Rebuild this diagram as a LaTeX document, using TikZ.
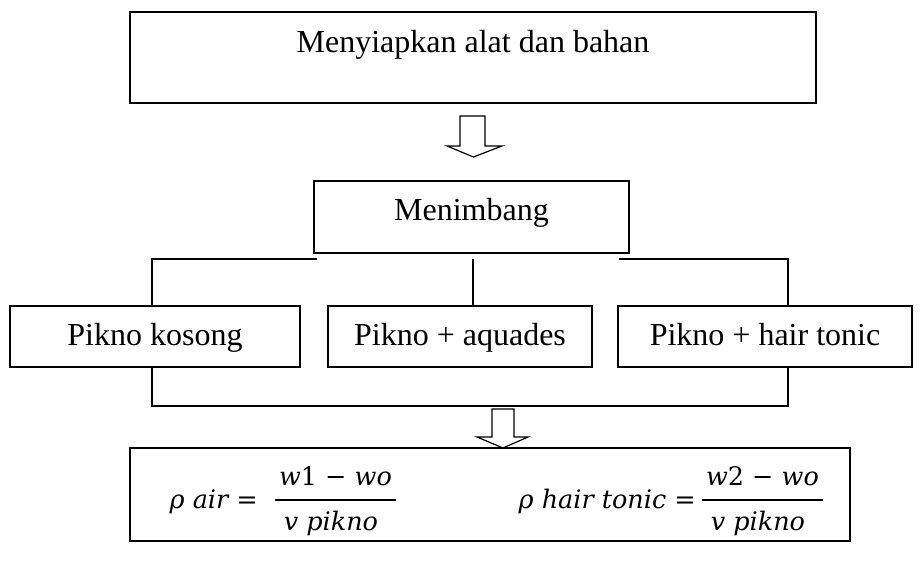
\documentclass[tikz,border=0pt]{standalone}
\usepackage{fontspec}
\setmainfont{Liberation Serif}
\newfontfamily\eqfont{DejaVu Serif}
\begin{document}
\begin{tikzpicture}[x=1pt,y=-1pt,
  boxst/.style={draw,line width=1.3pt,inner sep=0pt,outer sep=0pt},
  txt/.style={font=\fontsize{32}{36}\selectfont,inner sep=0pt,anchor=base},
  mth/.style={font=\eqfont\fontsize{25.5}{30}\selectfont,inner sep=0pt,anchor=base},
  conn/.style={line width=1.3pt},
  blockarrow/.style={draw,line width=1.2pt,fill=white,line join=miter}]
\useasboundingbox (0,0) rectangle (922,567);

% top box
\node[boxst,minimum width=686pt,minimum height=91pt] (top) at (473,57.5) {};
\node[txt] (toptxt) at (473,53) {Menyiapkan alat dan bahan};

% arrow 1
\draw[blockarrow] (460,116) -- (485,116) -- (485,146) -- (502,146) -- (473.5,157) -- (447,146) -- (460,146) -- cycle;

% Menimbang
\node[boxst,minimum width=315pt,minimum height=72pt] (mn) at (471.5,217) {};
\node[txt] (mntxt) at (471.5,220.5) {Menimbang};

% three boxes
\node[boxst,minimum width=290pt,minimum height=61pt] (b1) at (155,336.5) {};
\node[boxst,minimum width=264pt,minimum height=61pt] (b2) at (460,336.5) {};
\node[boxst,minimum width=294pt,minimum height=61pt] (b3) at (765,336.5) {};
\node[txt] (b1t) at (155,345) {Pikno kosong};
\node[txt] (b2t) at (460,345) {Pikno + aquades};
\node[txt] (b3t) at (765,345) {Pikno + hair tonic};

% upper connectors
\coordinate (tl) at (152,259);
\coordinate (tle) at (317,259);
\coordinate (tm) at (473,259);
\coordinate (trs) at (619,259);
\coordinate (tr) at (788,259);
\draw[conn] (b1.north -| tl) -- (tl) -- (tle);
\draw[conn] (b2.north -| tm) -- (tm);
\draw[conn] (trs) -- (tr) -- (b3.north -| tr);

% lower connector
\coordinate (bl) at (152,406);
\coordinate (br) at (788,406);
\draw[conn] (b1.south -| bl) -- (bl) -- (br) -- (b3.south -| br);

% arrow 2
\draw[blockarrow] (492,409) -- (514,409) -- (514,437) -- (528,437) -- (503,448) -- (477,437) -- (492,437) -- cycle;

% bottom box
\node[boxst,minimum width=720pt,minimum height=93pt] (bot) at (490,494.5) {};

% formula 1
\node[mth,anchor=base east] (f1l) at (258,508) {\itshape ρ air {\upshape =}};
\node[mth] (f1n) at (335.5,485) {\itshape w{\upshape 1} {\upshape −} wo};
\node[mth] (f1d) at (331,530) {\itshape v pikno};
\coordinate (f1a) at (275,500);
\coordinate (f1b) at (396,500);
\draw[line width=1.5pt] (f1a) -- (f1b);

% formula 2
\node[mth,anchor=base east] (f2l) at (696,508) {\itshape ρ hair tonic {\upshape =}};
\node[mth] (f2n) at (762.5,485) {\itshape w{\upshape 2} {\upshape −} wo};
\node[mth] (f2d) at (758,530) {\itshape v pikno};
\coordinate (f2a) at (702,500);
\coordinate (f2b) at (823,500);
\draw[line width=1.5pt] (f2a) -- (f2b);
\end{tikzpicture}
\end{document}
